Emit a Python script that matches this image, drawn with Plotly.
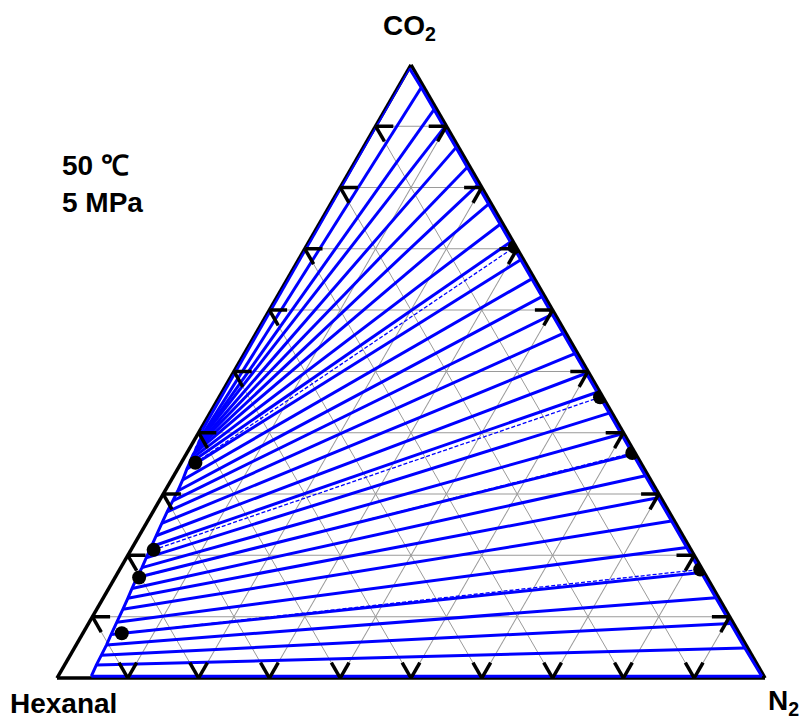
import plotly.graph_objects as go

# ---------------- data (mole fractions) ----------------
# model tie lines: vapour end (CO2, hexanal) and liquid end (CO2, N2)
vap_co2 = [0.995, 0.963, 0.927, 0.898, 0.865, 0.833, 0.804, 0.773, 0.740, 0.711, 0.682,
           0.651, 0.622, 0.593, 0.562, 0.529, 0.497, 0.466, 0.432, 0.398, 0.365,
           0.330, 0.294, 0.256, 0.213, 0.172, 0.131, 0.089, 0.049, 0.003]
vap_hex = [0.005, 0.004, 0.004, 0.004, 0.004, 0.004, 0.004, 0.004, 0.004, 0.004, 0.004,
           0.004, 0.004, 0.004, 0.004, 0.004, 0.004, 0.004, 0.004, 0.004, 0.004,
           0.004, 0.004, 0.004, 0.004, 0.004, 0.004, 0.004, 0.004, 0.003]
liq_co2 = [0.405, 0.394, 0.390, 0.385, 0.380, 0.375, 0.370, 0.364, 0.357, 0.350, 0.341,
           0.323, 0.305, 0.289, 0.271, 0.252, 0.232, 0.214, 0.196, 0.180, 0.164,
           0.146, 0.130, 0.112, 0.091, 0.071, 0.054, 0.037, 0.021, 0.003]
liq_n2 = [0.003, 0.007, 0.008, 0.008, 0.009, 0.009, 0.010, 0.010, 0.011, 0.012, 0.013,
          0.016, 0.018, 0.019, 0.020, 0.022, 0.024, 0.026, 0.028, 0.030, 0.031,
          0.033, 0.035, 0.037, 0.039, 0.041, 0.043, 0.044, 0.045, 0.047]

# experimental tie lines
exp_liq_co2 = [0.351, 0.209, 0.164, 0.073]
exp_liq_n2 = [0.020, 0.032, 0.034, 0.055]
exp_vap_co2 = [0.703, 0.458, 0.367, 0.177]
exp_vap_hex = [0.002, 0.004, 0.004, 0.003]

tick_vals = [0.1, 0.2, 0.3, 0.4, 0.5, 0.6, 0.7, 0.8, 0.9]
TL = 0.025  # tick length (fraction)

BLUE = "#0000FF"
FONT = "Liberation Sans, Arial, sans-serif"

fig = go.Figure()

# tie lines
ta, tb, tc = [], [], []
for va, vh, la, ln in zip(vap_co2, vap_hex, liq_co2, liq_n2):
    ta += [la, va, None]
    tb += [1 - la - ln, vh, None]
    tc += [ln, 1 - va - vh, None]
fig.add_trace(go.Scatterternary(a=ta, b=tb, c=tc, mode="lines",
                                line=dict(color=BLUE, width=3), hoverinfo="skip"))

# liquid boundary and vapour boundary
fig.add_trace(go.Scatterternary(a=liq_co2, b=[1 - a - n for a, n in zip(liq_co2, liq_n2)],
                                c=liq_n2, mode="lines", line=dict(color=BLUE, width=3),
                                hoverinfo="skip"))
fig.add_trace(go.Scatterternary(a=vap_co2, b=vap_hex,
                                c=[1 - a - h for a, h in zip(vap_co2, vap_hex)],
                                mode="lines", line=dict(color=BLUE, width=3),
                                hoverinfo="skip"))

# experimental tie lines (dashed)
ea, eb, ec = [], [], []
for la, ln, va, vh in zip(exp_liq_co2, exp_liq_n2, exp_vap_co2, exp_vap_hex):
    ea += [la, va, None]
    eb += [1 - la - ln, vh, None]
    ec += [ln, 1 - va - vh, None]
fig.add_trace(go.Scatterternary(a=ea, b=eb, c=ec, mode="lines",
                                line=dict(color=BLUE, width=1.3, dash="4px,2px"),
                                hoverinfo="skip"))

# ticks (two inward segments along grid directions at each edge point)
ka, kb, kc = [], [], []
for t in tick_vals:
    # left edge (N2 = 0), a = t
    ka += [t, t, None, t, t - TL, None]
    kb += [1 - t, 1 - t - TL, None, 1 - t, 1 - t, None]
    kc += [0, TL, None, 0, TL, None]
    # right edge (hexanal = 0), a = t
    ka += [t, t, None, t, t - TL, None]
    kb += [0, TL, None, 0, TL, None]
    kc += [1 - t, 1 - t - TL, None, 1 - t, 1 - t, None]
    # bottom edge (CO2 = 0), c = t
    ka += [0, TL, None, 0, TL, None]
    kb += [1 - t, 1 - t - TL, None, 1 - t, 1 - t, None]
    kc += [t, t, None, t, t - TL, None]
fig.add_trace(go.Scatterternary(a=ka, b=kb, c=kc, mode="lines",
                                line=dict(color="black", width=3.5), hoverinfo="skip"))

# experimental points
pa = exp_liq_co2 + exp_vap_co2
pc = exp_liq_n2 + [1 - a - h for a, h in zip(exp_vap_co2, exp_vap_hex)]
pb = [1 - a - c for a, c in zip(pa, pc)]
fig.add_trace(go.Scatterternary(a=pa, b=pb, c=pc, mode="markers",
                                marker=dict(color="black", size=14), hoverinfo="skip"))

axis_common = dict(title=dict(text=""), showticklabels=False, ticks="", showgrid=True,
                   gridcolor="#9a9a9a", gridwidth=1, tickmode="linear", tick0=0, dtick=0.1,
                   linecolor="black", linewidth=3.5, layer="below traces", min=0)

W, H = 807, 722
fig.update_layout(
    width=W, height=H, margin=dict(l=0, r=0, t=0, b=0),
    paper_bgcolor="white", showlegend=False,
    ternary=dict(
        sum=1, bgcolor="white",
        domain=dict(x=[57 / W, 765 / W], y=[1 - 678 / H, 1 - (678 - 708 * 3 ** 0.5 / 2) / H]),
        aaxis=axis_common, baxis=axis_common, caxis=axis_common,
    ),
    font=dict(family=FONT, color="black"),
)

def label(text, x, y, xanchor="center", size=28):
    fig.add_annotation(text=text, x=x / W, y=1 - y / H, xref="paper", yref="paper",
                       xanchor=xanchor, yanchor="middle", showarrow=False,
                       font=dict(family=FONT, size=size, color="black"))

label("<b>CO<sub>2</sub></b>", 409, 28)
label("<b>Hexanal</b>", 63, 703)
label("<b>N<sub>2</sub></b>", 801, 702, xanchor="right")
label("<b>50 ℃</b>", 60, 165, xanchor="left")
label("<b>5 MPa</b>", 60, 203, xanchor="left")

fig.write_html("out.html")
